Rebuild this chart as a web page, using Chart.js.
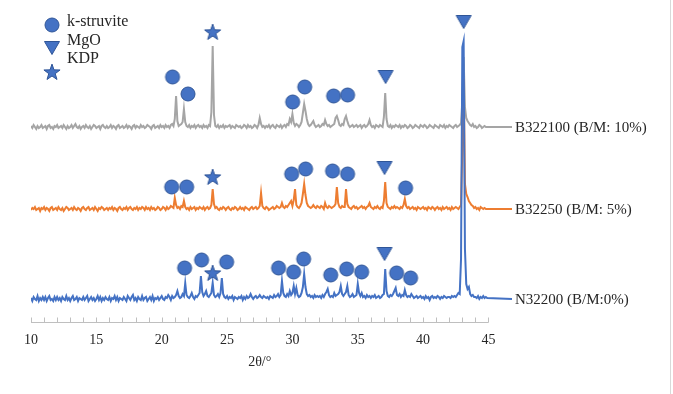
<!DOCTYPE html>
<html>
<head>
<meta charset="utf-8">
<script src="https://cdn.jsdelivr.net/npm/chart.js@4/dist/chart.umd.min.js"></script>
<style>
html,body{margin:0;padding:0;background:#fff;}
#wrap{position:relative;width:673px;height:394px;}
</style>
</head>
<body>
<div id="wrap"><canvas id="c" width="673" height="394"></canvas></div>
<script>
// ---- scan grid (2θ) ----
const twoThetaStart = 10;
const twoThetaStep = 0.1;
const leaderEnd = 46.8;
const xTicks = [10, 15, 20, 25, 30, 35, 40, 45];
const axisTitle = '2θ/°';

// ---- series names and vertical offsets ----
const seriesNames = ['N32200 (B/M:0%)', 'B32250 (B/M: 5%)', 'B322100 (B/M: 10%)'];
const seriesOffsets = [23, 113, 195];

// ---- intensities, 10.0° … 44.9° in 0.1° steps (one row per degree) ----
const n32200 = [
 1,-2,2,0,-1,3,-2,1,-1,2,
 -1,2,-2,1,3,-1,0,-2,2,-1,
 2,-1,1,-2,2,0,-1,3,-1,1,
 -2,1,3,-1,0,2,-2,1,0,-1,
 2,-1,1,3,-2,0,2,-1,1,-2,
 0,3,-1,2,-2,1,-1,2,0,-1,
 2,-2,1,0,3,-1,2,-2,1,0,
 -1,2,0,-2,3,1,-1,2,4,-1,
 1,-2,2,0,-1,3,-1,1,2,-2,
 0,2,-1,3,-2,1,0,2,-1,1,
 3,0,-1,2,1,4,2,-1,3,1,
 2,4,8,3,1,2,5,3,16,4,
 2,1,3,6,2,0,3,2,4,6,
 23,7,3,5,8,3,2,4,6,16,
 4,2,3,5,2,6,21,5,2,1,
 3,0,2,1,3,-1,2,1,0,2,
 1,3,-1,2,0,3,1,2,5,2,
 0,2,3,1,2,4,2,1,3,2,
 1,2,0,3,2,1,4,2,3,5,
 2,4,18,6,3,2,5,3,8,4,
 6,13,5,11,4,2,3,6,12,25,
 12,5,3,4,2,3,1,4,2,3,
 2,3,1,4,2,5,7,10,4,2,
 3,2,6,3,4,5,7,13,5,3,
 5,7,13,4,2,3,5,2,3,4,
 15,6,3,6,2,3,1,4,2,3,
 1,3,2,4,1,2,3,1,2,4,
 5,30,8,3,2,4,3,5,8,11,
 4,3,5,2,4,3,9,4,2,3,
 2,5,3,1,2,3,1,2,3,1,
 2,0,3,1,2,-1,2,3,1,2,
 1,3,2,0,2,1,3,2,1,2,
 2,1,3,2,3,2,4,6,5,40,
 252,258,50,15,10,12,5,3,4,2,
 2,1,3,0,2,1,3,1,2,1
];
const b32250 = [
 -1,1,0,2,-1,0,1,-2,1,0,
 2,-1,1,0,-2,1,2,-1,0,1,
 -1,2,0,-1,1,-2,0,2,1,-1,
 0,1,-1,2,0,-1,1,0,-2,1,
 2,0,-1,1,2,-1,0,1,-1,2,
 0,-2,1,0,2,1,-1,0,1,-1,
 1,0,2,-1,1,0,-2,1,2,0,
 -1,1,0,2,-1,1,2,0,-1,1,
 0,2,-1,1,0,2,1,-1,2,0,
 1,-1,2,0,1,-1,0,2,1,-1,
 0,2,1,-1,2,0,1,3,2,1,
 11,4,1,2,0,3,2,8,2,0,
 1,-1,2,0,1,2,-1,1,0,2,
 1,0,2,-1,1,2,0,1,4,20,
 5,1,2,0,-1,1,0,2,1,-1,
 1,2,0,-1,1,0,2,1,-1,0,
 2,0,1,-1,2,1,0,-1,1,2,
 0,1,2,0,1,3,16,3,1,0,
 2,1,-1,0,1,2,0,1,3,2,
 1,2,6,2,1,3,2,4,6,8,
 3,9,20,4,2,1,3,6,15,25,
 14,6,3,2,1,2,4,2,1,3,
 2,1,3,2,0,6,2,1,3,2,
 1,2,3,5,22,6,2,1,3,2,
 2,20,5,2,1,0,2,3,1,2,
 0,1,2,3,1,2,0,2,3,6,
 2,1,0,2,1,3,1,0,2,1,
 8,27,6,2,1,0,2,1,3,1,
 2,1,0,2,1,4,10,3,1,2,
 0,1,2,0,1,-1,2,1,0,1,
 2,0,1,-1,2,1,0,2,1,-1,
 1,2,0,1,-1,2,0,1,2,0,
 1,-1,2,0,1,2,1,0,2,4,
 60,130,25,15,12,8,6,4,3,1,
 2,0,1,-1,2,1,0,1,0,0
];
const b322100 = [
 1,-1,2,0,-2,1,-1,0,2,-1,
 0,1,-2,1,2,-1,0,-2,1,0,
 2,-1,0,1,-1,2,0,-2,1,-1,
 0,2,-1,1,3,0,-1,1,-2,0,
 1,-1,2,0,-1,1,-2,0,2,1,
 -1,0,1,-2,1,2,0,-1,1,-1,
 0,2,-1,1,0,-2,1,2,-1,0,
 1,-1,0,2,-1,1,0,-2,1,2,
 -1,1,0,-1,2,0,1,-1,0,2,
 1,0,-2,1,2,-1,0,1,-1,2,
 0,1,-1,2,0,1,-1,2,3,1,
 8,31,6,1,2,3,5,18,5,1,
 0,2,-1,1,0,2,-1,1,2,0,
 1,-1,2,0,1,-1,2,1,15,81,
 12,1,0,2,-1,1,0,2,-1,1,
 0,1,2,-1,1,0,-1,2,1,0,
 1,-1,0,2,1,-1,2,0,1,-1,
 0,2,1,-1,2,9,3,0,1,-1,
 1,0,2,-1,1,2,0,-1,2,1,
 0,2,-1,1,2,0,3,2,8,5,
 13,4,1,3,2,0,2,5,14,23,
 16,8,3,1,2,4,6,2,0,1,
 2,0,1,3,2,7,3,1,2,0,
 1,2,3,9,11,7,2,1,3,2,
 8,11,6,2,0,1,2,0,1,2,
 0,1,2,-1,1,2,0,1,3,7,
 2,0,1,-1,2,1,0,2,1,0,
 10,34,8,1,0,2,-1,1,0,2,
 1,0,2,-1,1,0,2,1,-1,0,
 2,1,-1,0,2,1,0,-1,2,1,
 0,2,1,-1,0,2,1,0,-1,2,
 1,0,-1,2,1,0,2,-1,1,0,
 2,1,0,-1,1,2,0,1,2,4,
 25,70,20,9,6,4,2,1,3,0,
 1,-1,0,2,1,-1,0,1,0,0
];
const seriesValues = [n32200, b32250, b322100];
const seriesColors = ['#4472c4', '#ed7d31', '#a5a5a5'];

// ---- phase markers: [2θ, level] ----
const kStruvite = [
 [20.83,245],[22.01,228],[30.02,220],[30.94,235],[33.15,226],[34.22,227],
 [20.76,135],[21.91,135],[29.94,148],[31.01,153],[33.07,151],[34.22,148],[38.66,134],
 [21.75,54],[23.05,62],[24.97,60],[28.94,54],[30.09,50],[30.86,63],[32.93,47],[34.15,53],[35.30,50],[37.97,49],[39.04,44]
];
const mgO = [[43.10,300],[37.13,245],[37.05,154],[37.05,68]];
const kdp = [[23.90,290],[23.90,145],[23.90,49]];
const legendLabels = ['k-struvite', 'MgO', 'KDP'];

// ---- marker glyphs ----
const FILL = '#4472c4', EDGE = '#2f5597';
function glyph(kind) {
  const s = 20, c = document.createElement('canvas');
  c.width = s; c.height = s;
  const g = c.getContext('2d');
  g.fillStyle = FILL; g.strokeStyle = EDGE; g.lineWidth = 1;
  g.beginPath();
  if (kind === 'circle') {
    g.arc(s/2, s/2, 7, 0, Math.PI*2);
  } else if (kind === 'tri') {
    g.moveTo(s/2-7.5, s/2-6.5); g.lineTo(s/2+7.5, s/2-6.5); g.lineTo(s/2, s/2+6.5); g.closePath();
  } else {
    for (let i = 0; i < 10; i++) {
      const r = i % 2 ? 3.4 : 8.5;
      const a = -Math.PI/2 + i*Math.PI/5;
      const px = s/2 + r*Math.cos(a), py = s/2 + 0.6 + r*Math.sin(a);
      i ? g.lineTo(px, py) : g.moveTo(px, py);
    }
    g.closePath();
  }
  g.fill(); g.stroke();
  return c;
}
const G = {circle: glyph('circle'), tri: glyph('tri'), star: glyph('star')};

// ---- datasets ----
const datasets = [];
function markerSet(arr, img) {
  return {type:'scatter', data: arr.map(p => ({x:p[0], y:p[1]})), pointStyle: img,
    pointRadius: 7, pointHoverRadius: 7, showLine:false, order: 0, clip: false};
}
datasets.push(markerSet(kStruvite, G.circle));
datasets.push(markerSet(mgO, G.tri));
datasets.push(markerSet(kdp, G.star));
seriesValues.forEach((vals, k) => {
  const pts = vals.map((v, i) => ({x: +(twoThetaStart + i*twoThetaStep).toFixed(1), y: seriesOffsets[k] + v}));
  pts.push({x: leaderEnd, y: seriesOffsets[k]});
  datasets.push({type:'line', label: seriesNames[k], data: pts, borderColor: seriesColors[k],
    borderWidth: 2, pointRadius: 0, tension: 0, fill: false, order: k + 1});
});

const FONT = '"Liberation Serif", "Times New Roman", serif';
const decor = {
  id: 'decor',
  afterDraw(chart) {
    const ctx = chart.ctx, xs = chart.scales.x, ys = chart.scales.y, ca = chart.chartArea;
    ctx.save();
    // x axis line + ticks
    ctx.strokeStyle = '#bfbfbf'; ctx.lineWidth = 1;
    const x0 = xs.getPixelForValue(xTicks[0]), x1 = xs.getPixelForValue(xTicks[xTicks.length-1]);
    const yb = Math.round(ca.bottom) + 0.5;
    ctx.beginPath(); ctx.moveTo(x0, yb); ctx.lineTo(x1, yb);
    for (let v = xTicks[0]; v <= xTicks[xTicks.length-1]; v++) {
      const px = Math.round(xs.getPixelForValue(v)) + 0.5;
      ctx.moveTo(px, yb); ctx.lineTo(px, yb - 5);
    }
    ctx.stroke();
    // axis title
    ctx.fillStyle = '#262626'; ctx.font = '14px ' + FONT;
    ctx.textAlign = 'center'; ctx.textBaseline = 'middle';
    ctx.fillText(axisTitle, (x0 + x1)/2, 362);
    // series labels
    ctx.textAlign = 'left'; ctx.font = '15px ' + FONT;
    seriesNames.forEach((n, k) => {
      ctx.fillText(n, ca.right + 3, ys.getPixelForValue(seriesOffsets[k]) + 1);
    });
    // legend
    ctx.font = '16px ' + FONT;
    const imgs = [G.circle, G.tri, G.star];
    const ly = [25, 48, 72], ty = [22, 41, 59];
    legendLabels.forEach((t, i) => {
      ctx.drawImage(imgs[i], 52 - 10, ly[i] - 10);
      ctx.fillText(t, 67, ty[i]);
    });
    // frame edge
    ctx.strokeStyle = '#d9d9d9';
    ctx.beginPath(); ctx.moveTo(670.5, 0); ctx.lineTo(670.5, 394); ctx.stroke();
    ctx.restore();
  }
};

new Chart(document.getElementById('c'), {
  data: {datasets},
  options: {
    responsive: false, animation: false, events: [],
    layout: {padding: {left: 31, right: 161, top: 10, bottom: 0}},
    plugins: {legend: {display: false}, tooltip: {enabled: false}},
    scales: {
      x: {type: 'linear', min: twoThetaStart, max: leaderEnd,
        grid: {display: false}, border: {display: false},
        afterBuildTicks: s => { s.ticks = xTicks.map(v => ({value: v})); },
        afterFit: s => { s.height = 72; },
        ticks: {font: {family: FONT, size: 14}, color: '#262626', padding: 2, maxRotation: 0, autoSkip: false}},
      y: {display: false, min: 0, max: 312}
    }
  },
  plugins: [decor]
});
</script>
</body>
</html>
